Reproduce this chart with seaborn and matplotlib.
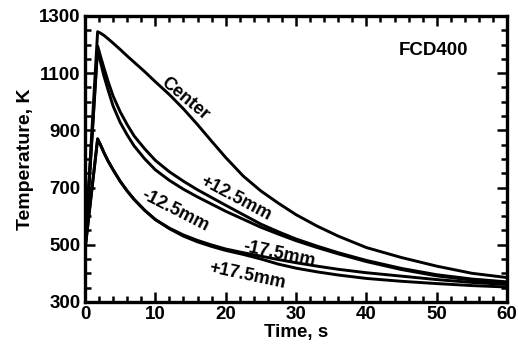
import numpy as np
import pandas as pd
import matplotlib
matplotlib.use("Agg")
import matplotlib.pyplot as plt
import seaborn as sns
from matplotlib.ticker import MultipleLocator

# time axis (s) shared by all curves
time_s = [0, 1.8, 2.2, 2.7, 3.3, 4, 5, 6, 7, 8.5, 10, 12, 14, 16, 18, 20,
          22.5, 25, 27.5, 30, 33, 36, 40, 45, 50, 55, 60]

# temperatures (K)
center = [480, 1245, 1240, 1232, 1220, 1205, 1183, 1160, 1138, 1105, 1070, 1025, 975, 920, 862, 805,
          740, 688, 645, 605, 565, 530, 490, 455, 425, 400, 385]
plus_12_5 = [480, 1195, 1160, 1118, 1070, 1020, 965, 920, 880, 835, 795, 755, 722, 692, 665, 638,
             605, 572, 545, 520, 495, 472, 445, 417, 395, 380, 370]
minus_12_5 = [480, 1185, 1140, 1090, 1040, 985, 928, 884, 845, 800, 762, 725, 694, 667, 642, 617,
              589, 561, 537, 514, 490, 468, 441, 413, 391, 376, 367]
minus_17_5 = [480, 870, 850, 822, 792, 762, 722, 688, 658, 620, 588, 558, 534, 515, 499, 485,
              472, 460, 448, 437, 425, 414, 402, 390, 378, 368, 361]
plus_17_5 = [480, 870, 850, 822, 792, 762, 722, 688, 658, 620, 588, 556, 530, 510, 494, 480,
             466, 450, 432, 418, 405, 394, 382, 372, 364, 357, 352]

series = {
    "Center": center,
    "+12.5mm": plus_12_5,
    "-12.5mm": minus_12_5,
    "-17.5mm": minus_17_5,
    "+17.5mm": plus_17_5,
}

# label text, position (t, T), rotation
labels = [
    ("Center", 14.2, 1010, -40),
    ("+12.5mm", 21.4, 662, -28),
    ("-12.5mm", 12.8, 620, -27),
    ("-17.5mm", 27.6, 465, -12),
    ("+17.5mm", 23.0, 392, -12),
]

sns.set_style("ticks")
plt.rcParams['font.family'] = ['Liberation Sans', 'DejaVu Sans']
plt.rcParams['font.weight'] = 'bold'
plt.rcParams['text.color'] = 'black'
plt.rcParams['axes.labelcolor'] = 'black'

fig, ax = plt.subplots(figsize=(5.18, 3.47), dpi=100)
fig.subplots_adjust(left=0.164, right=0.979, top=0.954, bottom=0.130)

df = pd.DataFrame({"Time": time_s, **series}).melt(id_vars="Time", var_name="pos", value_name="T")
for name in series:
    sub = df[df["pos"] == name]
    sns.lineplot(data=sub, x="Time", y="T", color="black", lw=2.1, ax=ax, legend=False)

for txt, tx, ty, rot in labels:
    ax.text(tx, ty, txt, rotation=rot, ha="center", va="center", fontsize=13, fontweight="bold",
            rotation_mode="anchor")

ax.text(49.5, 1178, "FCD400", ha="center", va="center", fontsize=13.5, fontweight="bold")

ax.set_xlim(0, 60)
ax.set_ylim(300, 1300)
ax.xaxis.set_major_locator(MultipleLocator(10))
ax.xaxis.set_minor_locator(MultipleLocator(2))
ax.set_yticks(np.arange(300, 1301, 200))
ax.yaxis.set_minor_locator(MultipleLocator(50))
ax.tick_params(which="both", direction="in", top=True, right=True, width=1.8, colors="black",
               labelsize=13.5, pad=3)
ax.tick_params(which="major", length=7)
ax.tick_params(which="minor", length=4.5)
for lab in ax.get_xticklabels() + ax.get_yticklabels():
    lab.set_fontweight("bold")
for sp in ax.spines.values():
    sp.set_visible(True)
    sp.set_linewidth(2.4)
    sp.set_color("black")

ax.set_xlabel("Time, s", fontsize=13.5, fontweight="bold", labelpad=1)
ax.set_ylabel("Temperature, K", fontsize=14, fontweight="bold", labelpad=4)

fig.savefig("out.png", dpi=100)
